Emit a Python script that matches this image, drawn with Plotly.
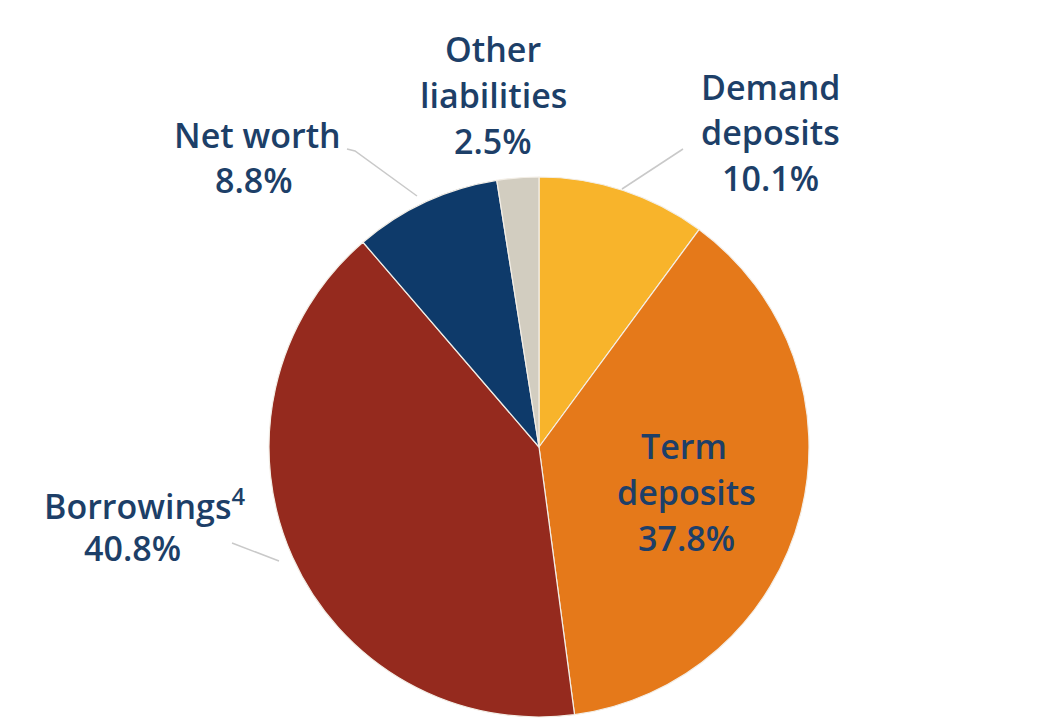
import plotly.graph_objects as go

W, H = 1061, 726
OFF = 8  # page body margin in the browser

categories = ["Demand deposits", "Term deposits", "Borrowings", "Net worth", "Other liabilities"]
shares = [10.1, 37.8, 40.8, 8.8, 2.5]
label_lines = [
    ["Demand", "deposits", "10.1%"],
    ["Term", "deposits", "37.8%"],
    ["Borrowings<sup>4</sup>", "40.8%"],
    ["Net worth", "8.8%"],
    ["Other", "liabilities", "2.5%"],
]
slice_colors = ["#F8B42B", "#E5791A", "#952A1E", "#0E3A6A", "#D2CDC0"]
text_color = "#1D3F68"

# pixel centre of each label line
label_pos = [
    [(770, 87), (770, 132), (770, 178)],
    [(684, 446), (686, 492), (686, 538)],
    [(144, 504), (132, 548)],
    [(257, 135), (254, 180)],
    [(493, 49), (493, 95), (493, 141)],
]

def px(x):
    return (x - OFF) / W

def py(y):
    return 1 - (y - OFF) / H

fig = go.Figure(go.Pie(
    labels=categories,
    values=shares,
    sort=False,
    direction="clockwise",
    rotation=0,
    marker=dict(colors=slice_colors, line=dict(color="#F3EEE6", width=1.2)),
    textinfo="none",
    hoverinfo="label+percent",
    showlegend=False,
    domain=dict(x=[px(269), px(809)], y=[py(717), py(177)]),
))

annotations = []
for lines, positions in zip(label_lines, label_pos):
    for t, (x, y) in zip(lines, positions):
        annotations.append(dict(
            text=t, x=px(x), y=py(y), xref="paper", yref="paper",
            xanchor="center", yanchor="middle", showarrow=False,
            font=dict(family="Open Sans, Arial, sans-serif", size=34, color=text_color, weight=600),
        ))

leader_color = "#C9C9C9"
leaders = [
    [(683, 149), (622, 189)],
    [(347, 149), (355, 151), (417, 196)],
    [(232, 543), (279, 561)],
]
shapes = []
for pts in leaders:
    path = "M " + " L ".join(f"{px(x)},{py(y)}" for x, y in pts)
    shapes.append(dict(type="path", path=path, xref="paper", yref="paper",
                       line=dict(color=leader_color, width=1.5)))

fig.update_layout(
    width=W, height=H,
    margin=dict(l=0, r=0, t=0, b=0),
    paper_bgcolor="white",
    plot_bgcolor="white",
    annotations=annotations,
    shapes=shapes,
)

fig.write_html("out.html")
